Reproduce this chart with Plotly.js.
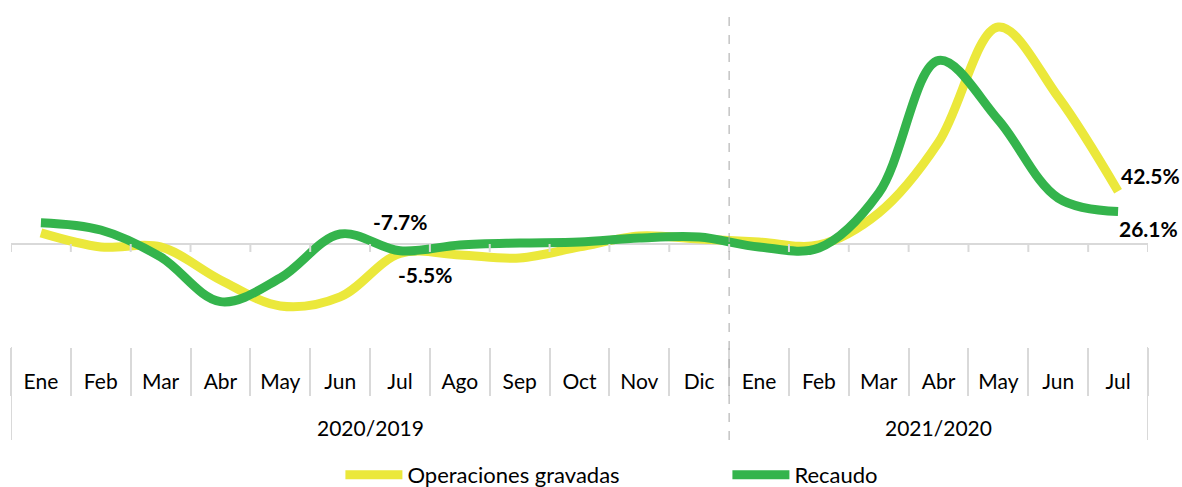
<!DOCTYPE html>
<html>
<head>
<meta charset="utf-8">
<script src="https://cdn.plot.ly/plotly-3.0.1.min.js"></script>
<style>
html,body{margin:0;padding:0;background:#fff;}
#chart{width:1182px;height:487px;}
</style>
</head>
<body>
<div id="chart"></div>
<script>
// ---- data ----
const periods = ['2020/2019','2020/2019','2020/2019','2020/2019','2020/2019','2020/2019','2020/2019','2020/2019','2020/2019','2020/2019','2020/2019','2020/2019',
                 '2021/2020','2021/2020','2021/2020','2021/2020','2021/2020','2021/2020','2021/2020'];
const months = ['Ene','Feb','Mar','Abr','May','Jun','Jul','Ago','Sep','Oct','Nov','Dic',
                'Ene','Feb','Mar','Abr','May','Jun','Jul'];
const operacionesGravadas = [8.9, -2.4, -2.4, -29, -50, -42.7, -7.7, -8.9, -11.3, -2.4, 6.5, 4.0,
                             1.6, -0.8, 25, 82, 175, 118.5, 42.5];
const recaudo = [17.2, 11.3, -10.5, -46.5, -27.4, 8.0, -5.5, -0.8, 0.8, 1.6, 4.8, 5.6,
                 -2.4, -3.2, 41, 148, 100, 37, 26.1];
const seriesNames = ['Operaciones gravadas', 'Recaudo'];
// labelled points: [series, index, xanchor, xshift, yshift]
const labelled = [[0, 6, 'center', 0, 32], [1, 6, 'center', 25, -24], [0, 18, 'left', 1, 16], [1, 18, 'left', -1, -17]];

const colors = ['#EBE83B', '#34B44C'];
const FONT = 'Lato, "Open Sans", sans-serif';
const n = months.length;
const allSeries = [operacionesGravadas, recaudo];
// unique category keys (period + month); ticks show the month only
const cats = months.map((m, i) => periods[i] + ' ' + m);

const traces = allSeries.map((vals, k) => ({
  type: 'scatter', mode: 'lines',
  x: cats, y: vals,
  name: seriesNames[k],
  line: {color: colors[k], width: 9, shape: 'spline', smoothing: 1},
  hoverinfo: 'skip'
}));

const fmt = v => v.toFixed(1) + '%';
const annotations = labelled.map(([s, i, xa, dx, dy]) => ({
  xref: 'x', yref: 'y',
  x: i, y: allSeries[s][i],
  text: fmt(allSeries[s][i]), showarrow: false,
  xanchor: xa, xshift: dx, yshift: dy,
  font: {family: FONT, size: 21, color: '#000', weight: 'bold'}
}));

// group labels and dividers
const groups = [...new Set(periods)];
const shapes = [];
groups.forEach(g => {
  const first = periods.indexOf(g), last = periods.lastIndexOf(g);
  annotations.push({xref: 'x', yref: 'paper', x: (first + last) / 2, y: -0.24, yanchor: 'middle',
    text: g, showarrow: false, font: {family: FONT, size: 21, color: '#000'}});
  [first - 0.5, last + 0.5].forEach(b => {
    if (b > -0.5 && b < n - 0.5) return; // inner boundary drawn as dashed line
    shapes.push({type: 'line', xref: 'x', yref: 'paper', x0: b, x1: b, y0: 0, y1: -0.276,
      line: {color: '#d9d9d9', width: 2}});
  });
});
// small ticks on the zero line
for (let b = 0; b <= n; b++) {
  shapes.push({type: 'line', xref: 'x', yref: 'y', ysizemode: 'pixel', yanchor: 0,
    x0: b - 0.5, x1: b - 0.5, y0: 0, y1: -8, line: {color: '#d9d9d9', width: 2}});
}
const groupBoundary = periods.indexOf(groups[1]) - 0.5;
shapes.push({type: 'line', xref: 'x', yref: 'paper', x0: groupBoundary, x1: groupBoundary,
  y0: -0.276, y1: 1, line: {color: '#a6a6a6', width: 1, dash: 'dash'}});

const layout = {
  width: 1182, height: 487,
  margin: {l: 11, r: 34, t: 10, b: 140},
  paper_bgcolor: '#fff', plot_bgcolor: '#fff',
  font: {family: FONT, color: '#000'},
  showlegend: true,
  legend: {orientation: 'h', xref: 'container', yref: 'container', x: 0.288, xanchor: 'left',
    y: 0.025, yanchor: 'middle', font: {family: FONT, size: 22, color: '#000'},
    entrywidth: 315, entrywidthmode: 'pixels', itemwidth: 57},
  xaxis: {type: 'category', range: [-0.5, n - 0.5], showline: false, showgrid: false, zeroline: false,
    tickmode: 'array', tickvals: cats, ticktext: months,
    tickson: 'boundaries', ticks: 'outside', ticklen: 48, tickwidth: 2, tickcolor: '#d9d9d9',
    ticklabelstandoff: 20,
    tickfont: {family: FONT, size: 21, color: '#000'}},
  yaxis: {range: [-83.1, 188.7], showticklabels: false, showgrid: false, ticks: '',
    zeroline: true, zerolinecolor: '#d9d9d9', zerolinewidth: 2, showline: false},
  shapes: shapes,
  annotations: annotations
};

Plotly.newPlot('chart', traces, layout, {displayModeBar: false, staticPlot: true});
</script>
</body>
</html>
